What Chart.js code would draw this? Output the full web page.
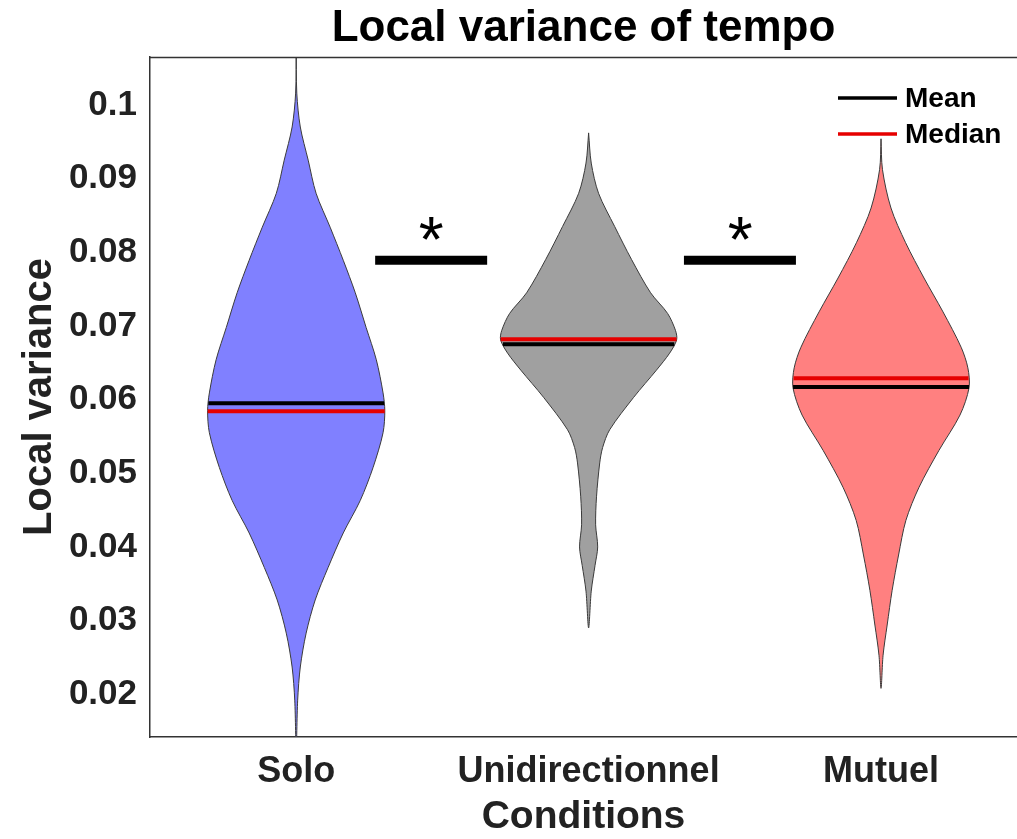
<!DOCTYPE html>
<html>
<head>
<meta charset="utf-8">
<script src="https://cdn.jsdelivr.net/npm/chart.js@4.4.1/dist/chart.umd.min.js"></script>
<style>
  body { margin: 0; background: #fff; }
</style>
</head>
<body>
<canvas id="violin" width="1017" height="839"></canvas>
<script>
const categories = ["Solo", "Unidirectionnel", "Mutuel"];
const legendLabels = ["Mean", "Median"];

// density outline of each violin: levels (top to bottom) and half widths in x units
const soloLevels = [0.108, 0.1016, 0.097, 0.0925, 0.088, 0.0834, 0.0789, 0.0745, 0.0698, 0.0654, 0.0609, 0.0585, 0.0555, 0.0508, 0.0463, 0.0419, 0.0372, 0.0328, 0.0283, 0.0237, 0.0192, 0.0125];
const soloWidths = [0, 0.002, 0.014, 0.041, 0.068, 0.116, 0.161, 0.202, 0.239, 0.274, 0.297, 0.303, 0.297, 0.263, 0.219, 0.161, 0.109, 0.065, 0.034, 0.014, 0.005, 0];

const uniLevels = [0.0962, 0.0921, 0.088, 0.0835, 0.079, 0.0745, 0.0717, 0.0694, 0.0681, 0.0663, 0.064, 0.0603, 0.0559, 0.0535, 0.0514, 0.0468, 0.043, 0.04, 0.0375, 0.034, 0.029];
const uniWidths = [0, 0.009, 0.034, 0.089, 0.147, 0.212, 0.27, 0.297, 0.301, 0.277, 0.232, 0.154, 0.072, 0.048, 0.038, 0.027, 0.024, 0.031, 0.022, 0.009, 0];

const mutLevels = [0.0954, 0.0912, 0.086, 0.0813, 0.0765, 0.0719, 0.0671, 0.0643, 0.0616, 0.0579, 0.0531, 0.0481, 0.0436, 0.0389, 0.0341, 0.0294, 0.0253, 0.0208];
const mutWidths = [0, 0.005, 0.034, 0.084, 0.147, 0.212, 0.274, 0.297, 0.301, 0.27, 0.198, 0.13, 0.085, 0.06, 0.038, 0.021, 0.007, 0];

const means = [0.0595, 0.0675, 0.0617];
const medians = [0.0584, 0.0682, 0.0629];

// significance markers
const sigBars = [[1.27, 1.653], [2.326, 2.709]];
const sigLevel = 0.0789;
const starX = [1.462, 2.518];
const starLevel = 0.0837;

const fillColors = ["#8080ff", "#a0a0a0", "#ff8080"];
const FONT = "'Liberation Sans', Arial, sans-serif";
const TXT = "#222";

function outline(center, levels, widths) {
  const left = levels.map((y, i) => ({ x: center - widths[i], y }));
  const right = levels.map((y, i) => ({ x: center + widths[i], y })).reverse();
  return left.concat(right.slice(1));
}

function widthAt(levels, widths, v) {
  for (let i = 0; i < levels.length - 1; i++) {
    if (v <= levels[i] && v >= levels[i + 1]) {
      const t = (levels[i] - v) / (levels[i] - levels[i + 1]);
      return widths[i] + t * (widths[i + 1] - widths[i]);
    }
  }
  return 0;
}

const profiles = [
  [soloLevels, soloWidths],
  [uniLevels, uniWidths],
  [mutLevels, mutWidths],
];

const datasets = [];

profiles.forEach(([levels, widths], i) => {
  const c = i + 1;
  const wMean = widthAt(levels, widths, means[i]);
  const wMed = widthAt(levels, widths, medians[i]);
  datasets.push({
    label: "Mean",
    data: [{ x: c - wMean, y: means[i] }, { x: c + wMean, y: means[i] }],
    borderColor: "#000",
    borderWidth: 4,
    pointRadius: 0,
    order: 1,
  });
  datasets.push({
    label: "Median",
    data: [{ x: c - wMed, y: medians[i] }, { x: c + wMed, y: medians[i] }],
    borderColor: "#e60000",
    borderWidth: 4,
    pointRadius: 0,
    order: 1,
  });
  datasets.push({
    label: categories[i],
    data: outline(c, levels, widths),
    borderColor: "#3a3a3a",
    borderWidth: 1,
    backgroundColor: fillColors[i],
    fill: "shape",
    tension: 0.3,
    pointRadius: 0,
    order: 2,
  });
});

sigBars.forEach((b) => {
  datasets.push({
    label: "sig",
    data: [{ x: b[0], y: sigLevel }, { x: b[1], y: sigLevel }],
    borderColor: "#000",
    borderWidth: 9,
    borderCapStyle: "butt",
    pointRadius: 0,
    order: 1,
  });
});

const extras = {
  id: "extras",
  afterDatasetsDraw(chart) {
    const { ctx, chartArea, scales } = chart;
    ctx.save();
    // top edge of the box
    ctx.strokeStyle = "#333";
    ctx.lineWidth = 1.5;
    ctx.beginPath();
    ctx.moveTo(chartArea.left, chartArea.top + 0.5);
    ctx.lineTo(chartArea.right, chartArea.top + 0.5);
    ctx.stroke();

    // asterisks
    ctx.fillStyle = "#000";
    ctx.font = "64px " + FONT;
    ctx.textAlign = "center";
    ctx.textBaseline = "alphabetic";
    starX.forEach((x) => {
      ctx.fillText("*", scales.x.getPixelForValue(x), scales.y.getPixelForValue(starLevel) + 37);
    });

    // legend
    const colors = ["#000", "#e60000"];
    ctx.font = "bold 28px " + FONT;
    ctx.textAlign = "left";
    ctx.textBaseline = "middle";
    legendLabels.forEach((t, i) => {
      const y = chartArea.top + 41 + i * 36;
      ctx.strokeStyle = colors[i];
      ctx.lineWidth = 3.5;
      ctx.beginPath();
      ctx.moveTo(chartArea.right - 179, y);
      ctx.lineTo(chartArea.right - 120, y);
      ctx.stroke();
      ctx.fillStyle = "#000";
      ctx.fillText(t, chartArea.right - 112, y + 1);
    });
    ctx.restore();
  },
};

new Chart(document.getElementById("violin"), {
  type: "line",
  data: { datasets },
  plugins: [extras],
  options: {
    responsive: false,
    devicePixelRatio: 1,
    animation: false,
    layout: { padding: 0 },
    plugins: {
      legend: { display: false },
      tooltip: { enabled: false },
      title: {
        display: true,
        fullSize: false,
        text: "Local variance of tempo",
        color: "#000",
        font: { family: FONT, size: 44, weight: "bold", lineHeight: 1.1 },
        padding: { top: 5, bottom: 3.6 },
      },
    },
    scales: {
      x: {
        type: "linear",
        min: 0.5,
        max: 3.465,
        afterBuildTicks: (s) => {
          s.ticks = categories.map((c, i) => ({ value: i + 1 }));
        },
        ticks: {
          callback: (v) => categories[v - 1],
          color: TXT,
          padding: 13,
          maxRotation: 0,
          autoSkip: false,
          font: { family: FONT, size: 36, weight: "bold", lineHeight: 1.2 },
        },
        grid: { display: false, drawTicks: false },
        border: { display: true, color: "#333", width: 1.5 },
        title: {
          display: true,
          text: "Conditions",
          color: TXT,
          padding: { top: 0, bottom: 0 },
          font: { family: FONT, size: 39, weight: "bold", lineHeight: 1.1 },
        },
        afterFit: (s) => {
          s.height = 102;
        },
      },
      y: {
        min: 0.0142,
        max: 0.1065,
        ticks: {
          stepSize: 0.01,
          includeBounds: false,
          callback: (v) => String(Number(v.toFixed(3))),
          color: TXT,
          padding: 13,
          font: { family: FONT, size: 35, weight: "bold", lineHeight: 1.2 },
        },
        grid: { display: false, drawTicks: false },
        border: { display: true, color: "#333", width: 1.5 },
        title: {
          display: true,
          text: "Local variance",
          color: TXT,
          padding: { top: 16, bottom: 0 },
          font: { family: FONT, size: 40, weight: "bold", lineHeight: 1.2 },
        },
        afterFit: (s) => {
          s.width = 150;
        },
      },
    },
  },
});
</script>
</body>
</html>
